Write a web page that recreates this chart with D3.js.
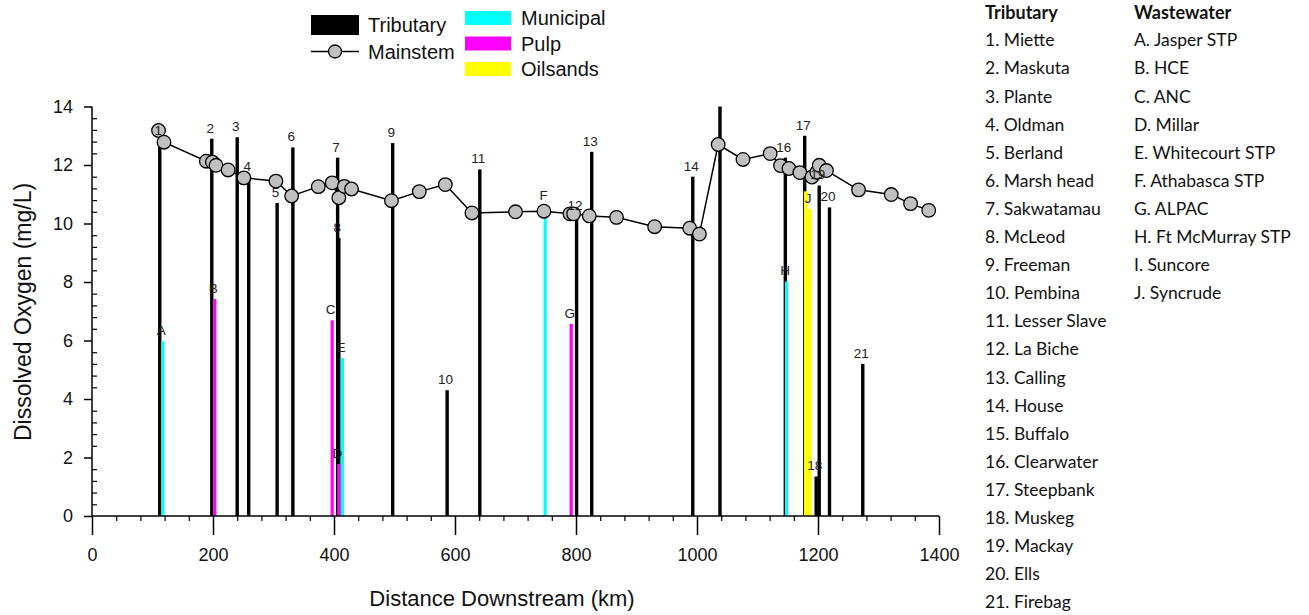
<!DOCTYPE html>
<html>
<head>
<meta charset="utf-8">
<script src="https://cdn.jsdelivr.net/npm/d3@7"></script>
<style>
  body { margin: 0; background: #fff; }
  svg text { font-family: "Liberation Sans", Arial, sans-serif; }
</style>
</head>
<body>
<svg id="chart" width="1309" height="615"></svg>
<script>
// ---------------- DATA ----------------
const tribLabels = ["1","2","3","4","5","6","7","8","9","10","11","12","13","14","15","16","17","18","19","20","21"];
const tribNames = ["Miette","Maskuta","Plante","Oldman","Berland","Marsh head","Sakwatamau","McLeod","Freeman","Pembina","Lesser Slave","La Biche","Calling","House","Buffalo","Clearwater","Steepbank","Muskeg","Mackay","Ells","Firebag"];
const tribKm = [112, 198, 240, 259, 306, 332, 406, 408, 497, 587, 641, 801, 826, 993, 1038, 1146, 1178, 1197, 1202, 1219, 1274];
const tribDO = [12.8, 12.9, 12.95, 11.6, 10.7, 12.6, 12.25, 9.5, 12.75, 4.3, 11.85, 10.25, 12.45, 11.6, 14.6, 12.25, 13.0, 1.35, 11.3, 10.55, 5.2];

const wwLabels = ["A","B","C","D","E","F","G","H","I","J"];
const wwNames = ["Jasper STP","HCE","ANC","Millar","Whitecourt STP","Athabasca STP","ALPAC","Ft McMurray STP","Suncore","Syncrude"];
const wwType = ["Municipal","Pulp","Pulp","Pulp","Municipal","Municipal","Pulp","Municipal","Oilsands","Oilsands"];
const wwKm = [117, 203, 397, 408, 414, 749, 792, 1148, 1180, 1186];
const wwDO = [5.97, 7.42, 6.69, 1.78, 5.4, 10.6, 6.57, 8.02, 11.1, 10.5];

const mainKm = [110, 119, 189, 199, 205, 225, 251, 304, 330, 374, 397, 408, 417, 429, 495, 541, 584, 628, 700, 747, 790, 796, 822, 867, 930, 988, 1004, 1035, 1076, 1121, 1138, 1152, 1170, 1190, 1198, 1202, 1214, 1267, 1321, 1353, 1383];
const mainDO = [13.18, 12.78, 12.13, 12.1, 11.99, 11.83, 11.56, 11.45, 10.94, 11.26, 11.39, 10.88, 11.27, 11.18, 10.78, 11.09, 11.33, 10.36, 10.4, 10.42, 10.33, 10.33, 10.26, 10.21, 9.89, 9.84, 9.64, 12.7, 12.19, 12.39, 11.98, 11.88, 11.74, 11.59, 11.75, 11.99, 11.81, 11.15, 10.99, 10.68, 10.45];

const xTicks = [0, 200, 400, 600, 800, 1000, 1200, 1400];
const yTicks = [0, 2, 4, 6, 8, 10, 12, 14];
const typeNames = ["Municipal", "Pulp", "Oilsands"];
const typeColors = ["#00ffff", "#ff00ff", "#ffff00"];

// ---------------- SETUP ----------------
const svg = d3.select("#chart");
const x = d3.scaleLinear().domain([0, 1400]).range([92, 939]);
const y = d3.scaleLinear().domain([0, 14]).range([516, 106.5]);
const color = d3.scaleOrdinal().domain(typeNames).range(typeColors);

svg.append("defs").append("clipPath").attr("id", "plotclip")
  .append("rect").attr("x", 80).attr("y", y(14)).attr("width", 880).attr("height", y(0) - y(14) + 2);

const plot = svg.append("g").attr("clip-path", "url(#plotclip)");

const trib = tribLabels.map((l, i) => ({label: l, km: tribKm[i], v: tribDO[i]}));
const ww = wwLabels.map((l, i) => ({label: l, km: wwKm[i], v: wwDO[i], type: wwType[i]}));
const mains = mainKm.map((k, i) => ({km: k, v: mainDO[i]}));

// tributary bars
plot.selectAll("rect.trib").data(trib).join("rect")
  .attr("class", "trib")
  .attr("x", d => x(d.km) - 1.7).attr("width", 3.4)
  .attr("y", d => y(d.v)).attr("height", d => y(0) - y(d.v))
  .attr("fill", "#000");

// wastewater bars
plot.selectAll("rect.ww").data(ww).join("rect")
  .attr("class", "ww")
  .attr("x", d => x(d.km) - (d.type === "Oilsands" ? 2 : 1.6))
  .attr("width", d => d.type === "Oilsands" ? 4 : 3.2)
  .attr("y", d => y(d.v)).attr("height", d => y(0) - y(d.v))
  .attr("fill", d => color(d.type));

// mainstem line
plot.append("path").datum(mains)
  .attr("fill", "none").attr("stroke", "#000").attr("stroke-width", 1.5)
  .attr("d", d3.line().x(d => x(d.km)).y(d => y(d.v)));

plot.selectAll("circle.main").data(mains).join("circle")
  .attr("class", "main")
  .attr("cx", d => x(d.km)).attr("cy", d => y(d.v)).attr("r", 6.8)
  .attr("fill", "#c0c0c0").attr("stroke", "#000").attr("stroke-width", 1.3);

// bar labels
const labelData = trib.concat(ww);
plot.selectAll("text.blab").data(labelData).join("text")
  .attr("class", "blab")
  .attr("x", d => x(d.km) - 1.5).attr("y", d => y(d.v) - 11)
  .attr("dy", "0.36em").attr("text-anchor", "middle")
  .attr("font-size", 13.5).attr("fill", "#222")
  .text(d => d.label);

// ---------------- AXES ----------------
const xMinor = d3.range(0, 1401, 40).filter(v => v % 200 !== 0);
const yMinor = d3.range(0, 14.001, 0.4).map(v => +v.toFixed(1)).filter(v => Math.abs(v / 2 - Math.round(v / 2)) > 1e-6);

const gx = svg.append("g").attr("transform", `translate(0,${y(0)})`)
  .call(d3.axisBottom(x).tickValues(xTicks).tickSize(19).tickPadding(13).tickFormat(d3.format("d")));
gx.select(".domain").attr("d", `M${x(0)},0H${x(1400)}`).attr("stroke-width", 1.5);
gx.selectAll(".tick line").attr("stroke-width", 1.5);
gx.selectAll(".tick text").attr("font-size", 18).attr("font-family", "Liberation Sans, Arial, sans-serif").attr("fill", "#111");

const gxm = svg.append("g").attr("transform", `translate(0,${y(0)})`)
  .call(d3.axisBottom(x).tickValues(xMinor).tickSize(5).tickFormat(""));
gxm.select(".domain").remove();
gxm.selectAll(".tick line").attr("stroke-width", 1.2);

const gy = svg.append("g").attr("transform", `translate(${x(0)},0)`)
  .call(d3.axisLeft(y).tickValues(yTicks).tickSize(8).tickPadding(11).tickFormat(d3.format("d")));
gy.select(".domain").attr("d", `M0,${y(0)}V${y(14)}`).attr("stroke-width", 1.5);
gy.selectAll(".tick line").attr("stroke-width", 1.5);
gy.selectAll(".tick text").attr("font-size", 18).attr("font-family", "Liberation Sans, Arial, sans-serif").attr("fill", "#111");

const gym = svg.append("g").attr("transform", `translate(${x(0)},0)`)
  .call(d3.axisRight(y).tickValues(yMinor).tickSize(5).tickFormat(""));
gym.select(".domain").remove();
gym.selectAll(".tick line").attr("stroke-width", 1.2);

// axis titles
svg.append("text").attr("x", 502).attr("y", 598).attr("dy", "0.36em")
  .attr("text-anchor", "middle").attr("font-size", 22).attr("fill", "#111")
  .text("Distance Downstream (km)");
svg.append("text").attr("transform", `translate(23,${312}) rotate(-90)`).attr("dy", "0.36em")
  .attr("text-anchor", "middle").attr("font-size", 23).attr("fill", "#111")
  .text("Dissolved Oxygen (mg/L)");

// ---------------- LEGEND ----------------
const leg = svg.append("g");
leg.append("rect").attr("x", 311).attr("y", 15).attr("width", 48).attr("height", 20).attr("fill", "#000");
leg.append("text").attr("x", 368).attr("y", 25).attr("dy", "0.36em").attr("font-size", 20).attr("fill", "#111").text("Tributary");
leg.append("line").attr("x1", 311).attr("x2", 359).attr("y1", 51.5).attr("y2", 51.5).attr("stroke", "#000").attr("stroke-width", 1.5);
leg.append("circle").attr("cx", 335).attr("cy", 51.5).attr("r", 6.5).attr("fill", "#c0c0c0").attr("stroke", "#000").attr("stroke-width", 1.3);
leg.append("text").attr("x", 368).attr("y", 52).attr("dy", "0.36em").attr("font-size", 20).attr("fill", "#111").text("Mainstem");

typeNames.forEach((t, i) => {
  const yy = 11 + i * 25.5;
  leg.append("rect").attr("x", 465).attr("y", yy).attr("width", 46).attr("height", 14).attr("fill", color(t));
  leg.append("text").attr("x", 521).attr("y", yy + 7).attr("dy", "0.36em").attr("font-size", 20).attr("fill", "#111").text(t);
});

// ---------------- NAME LISTS ----------------
const list = svg.append("g");
const listFont = "Lato, 'Open Sans', sans-serif";
list.append("text").attr("x", 985).attr("y", 13).attr("dy", "0.36em").attr("font-size", 18).attr("font-weight", "bold").attr("fill", "#111").style("font-family", listFont).text("Tributary");
list.append("text").attr("x", 1134).attr("y", 13).attr("dy", "0.36em").attr("font-size", 18).attr("font-weight", "bold").attr("fill", "#111").style("font-family", listFont).text("Wastewater");
list.selectAll("text.tn").data(tribNames).join("text").attr("class", "tn")
  .attr("x", 985).attr("y", (d, i) => 40 + i * 28.1).attr("dy", "0.36em")
  .attr("font-size", 17.5).attr("fill", "#111").style("font-family", listFont)
  .text((d, i) => `${tribLabels[i]}. ${d}`);
list.selectAll("text.wn").data(wwNames).join("text").attr("class", "wn")
  .attr("x", 1134).attr("y", (d, i) => 40 + i * 28.1).attr("dy", "0.36em")
  .attr("font-size", 17.5).attr("fill", "#111").style("font-family", listFont)
  .text((d, i) => `${wwLabels[i]}. ${d}`);
</script>
</body>
</html>
